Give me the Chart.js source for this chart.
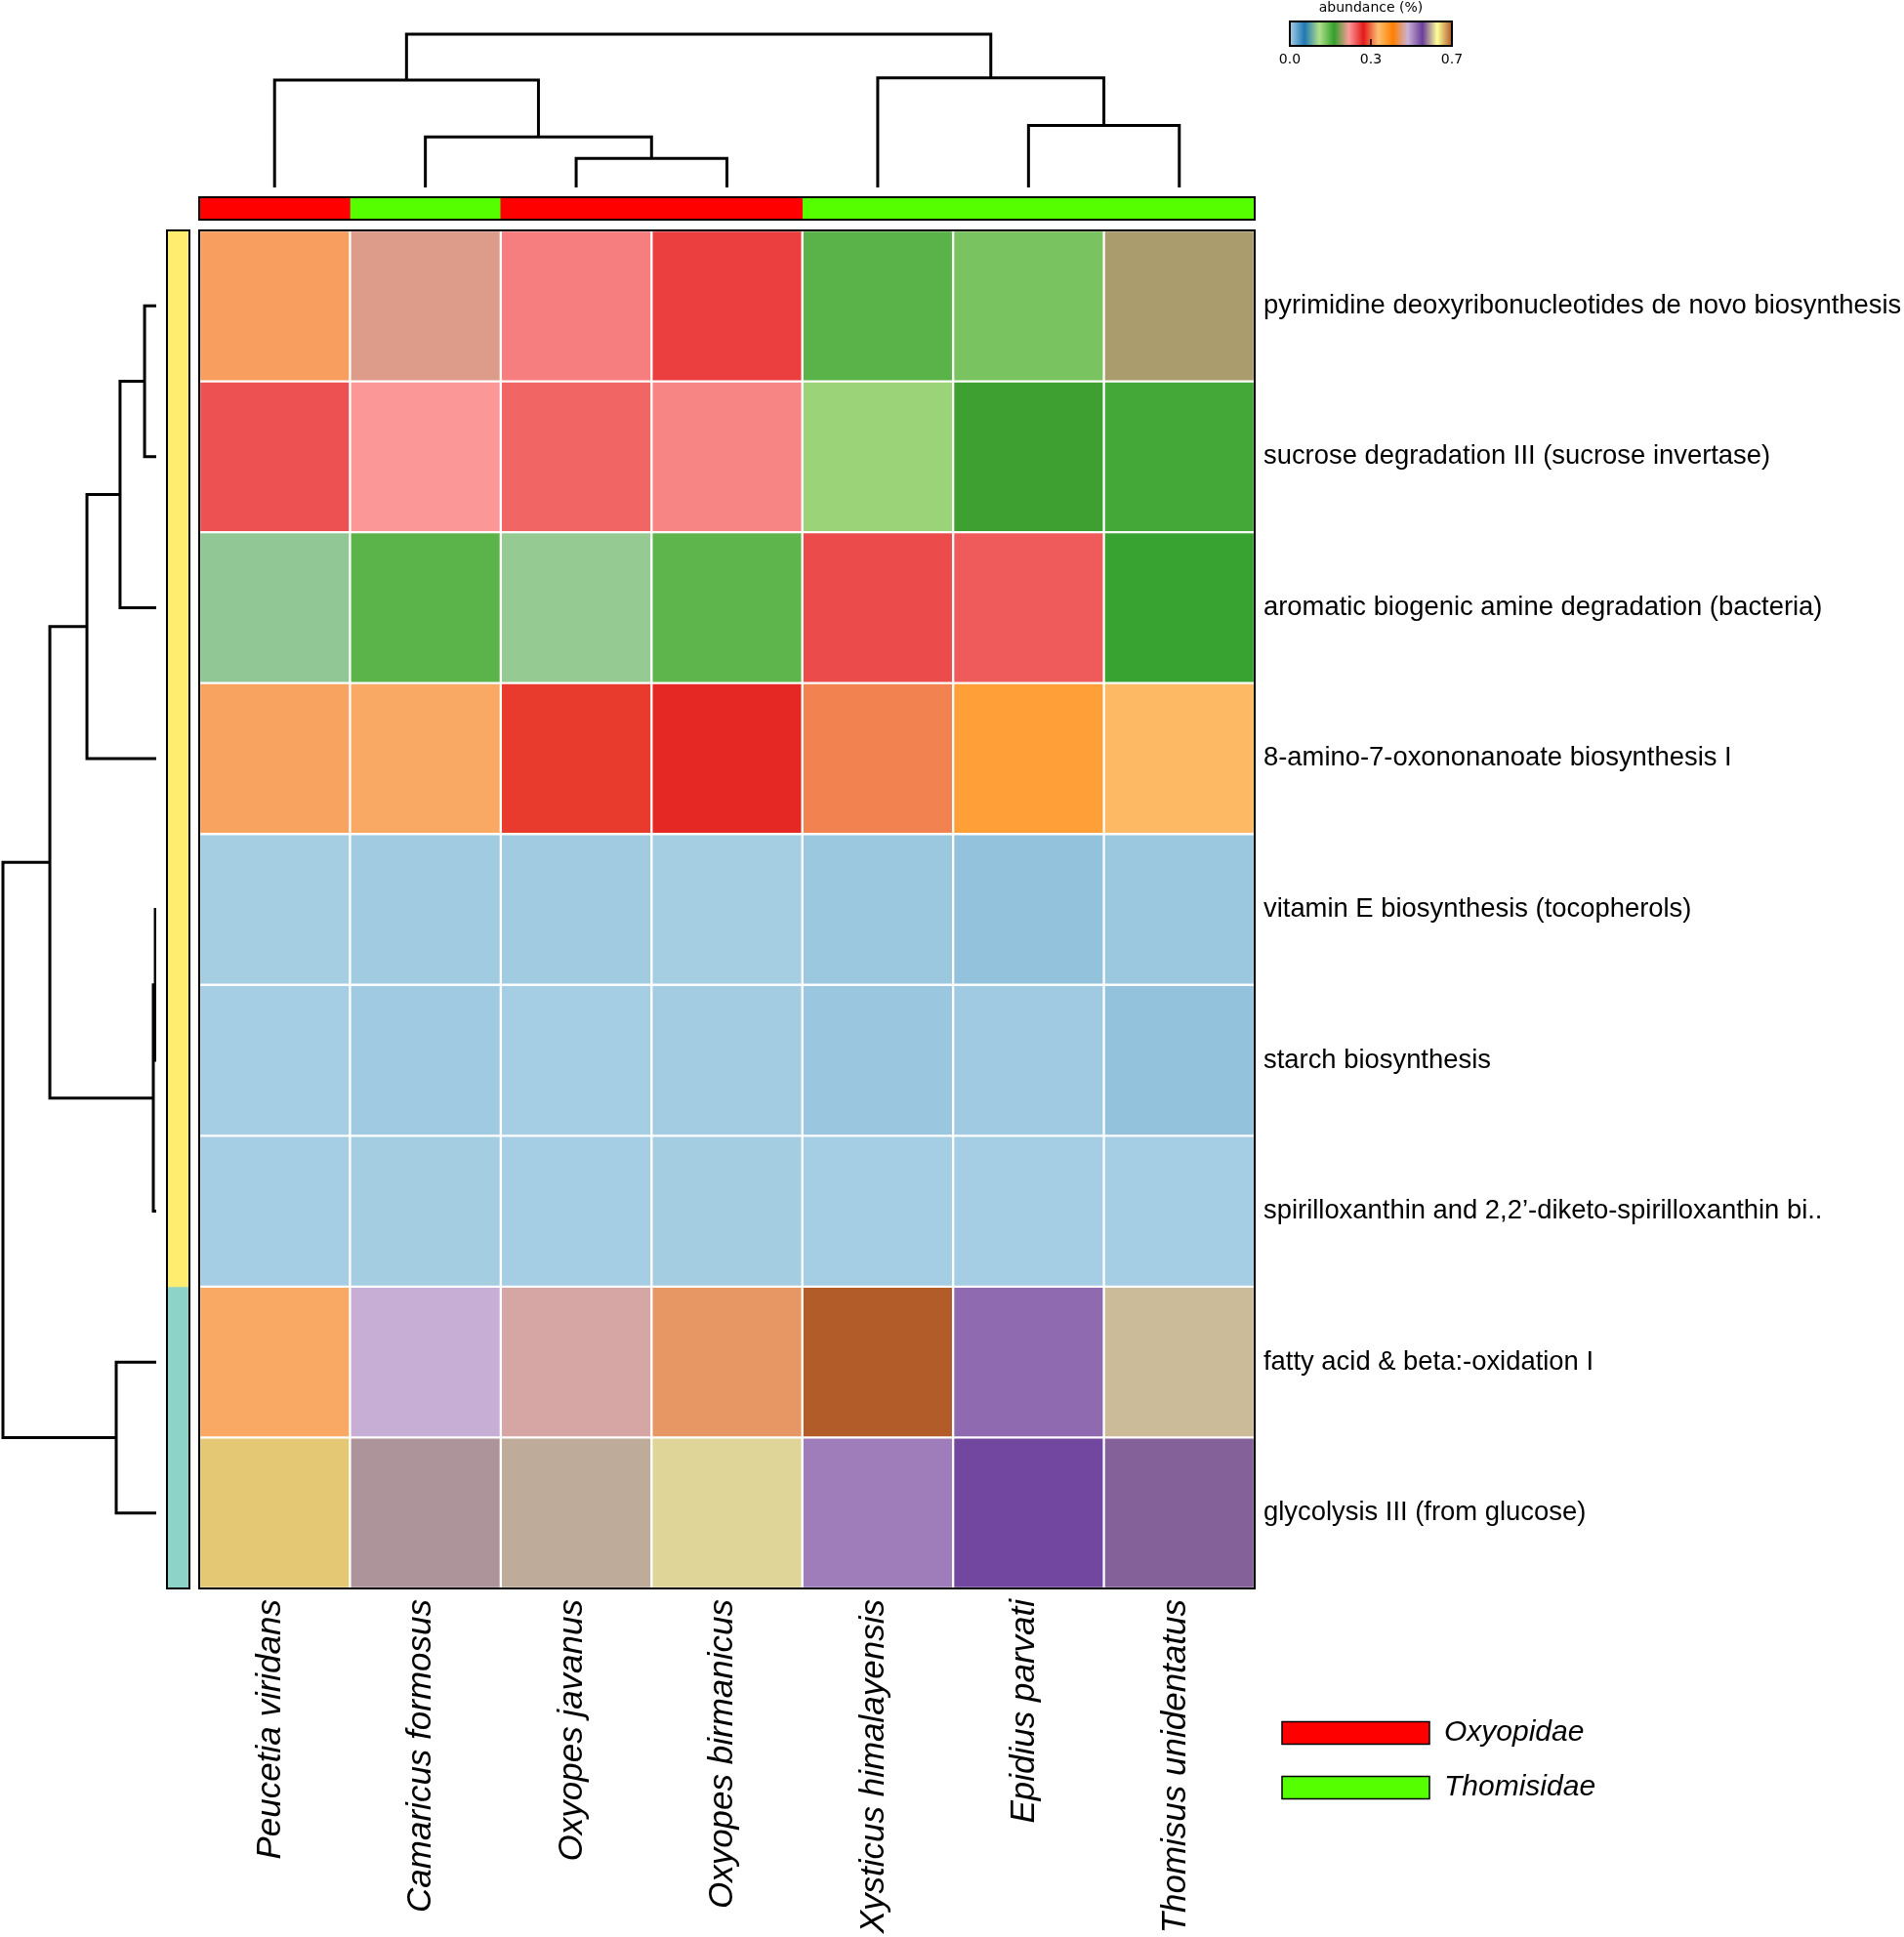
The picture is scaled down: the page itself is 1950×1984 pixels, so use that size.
<!DOCTYPE html>
<html>
<head>
<meta charset="utf-8">
<script src="https://cdn.jsdelivr.net/npm/chart.js@4.4.1/dist/chart.umd.min.js"></script>
<style>
  html, body { margin: 0; padding: 0; background: #fff; }
  body { width: 1950px; height: 1984px; position: relative; overflow: hidden; }
  canvas { position: absolute; }
</style>
</head>
<body>
<canvas id="topDendro" width="1081" height="161" style="left:204px;top:31px"></canvas>
<canvas id="famBar" width="1083" height="25" style="left:203px;top:201px"></canvas>
<canvas id="leftDendro" width="160" height="1388" style="left:0px;top:236px"></canvas>
<canvas id="rowBar" width="25" height="1390" style="left:170px;top:235px"></canvas>
<canvas id="heat" width="1748" height="1771" style="left:202px;top:211px"></canvas>
<canvas id="cbar" width="206" height="70" style="left:1301px;top:0px"></canvas>
<canvas id="famLegend" width="800" height="140" style="left:1287px;top:1734px"></canvas>
<script>
// species (columns) and pathways (rows), in the order of the picture
const species = [
  "Peucetia viridans", "Camaricus formosus", "Oxyopes javanus", "Oxyopes birmanicus",
  "Xysticus himalayensis", "Epidius parvati", "Thomisus unidentatus"
];
const colFamily = ["Oxyopidae", "Thomisidae", "Oxyopidae", "Oxyopidae", "Thomisidae", "Thomisidae", "Thomisidae"];
const families = ["Oxyopidae", "Thomisidae"];

const pathways = [
  "pyrimidine deoxyribonucleotides de novo biosynthesis",
  "sucrose degradation III (sucrose invertase)",
  "aromatic biogenic amine degradation (bacteria)",
  "8-amino-7-oxononanoate biosynthesis I",
  "vitamin E biosynthesis (tocopherols)",
  "starch biosynthesis",
  "spirilloxanthin and 2,2\u2019-diketo-spirilloxanthin bi..",
  "fatty acid & beta:-oxidation I",
  "glycolysis III (from glucose)"
];
const rowCluster = [0, 0, 0, 0, 0, 0, 0, 1, 1];

// abundance (%) per pathway, one value per species
const pyrimidine = [0.348, 0.231, 0.253, 0.283, 0.162, 0.147, 0.216];
const sucrose    = [0.274, 0.241, 0.265, 0.250, 0.131, 0.183, 0.172];
const aromatic   = [0.106, 0.161, 0.108, 0.160, 0.277, 0.270, 0.177];
const aminoOxo   = [0.350, 0.352, 0.312, 0.305, 0.338, 0.390, 0.366];
const vitaminE   = [0.000, 0.0024, 0.0021, 0.000, 0.0048, 0.0084, 0.0048];
const starch     = [0.0006, 0.003, 0.0006, 0.0012, 0.0054, 0.003, 0.0084];
const spirillo   = [0.0006, 0.0009, 0.0006, 0.0009, 0.0006, 0.0006, 0.0006];
const fattyAcid  = [0.352, 0.482, 0.466, 0.448, 0.659, 0.517, 0.579];
const glycolysis = [0.620, 0.567, 0.574, 0.587, 0.507, 0.535, 0.551];
const abundance = [pyrimidine, sucrose, aromatic, aminoOxo, vitaminE, starch, spirillo, fattyAcid, glycolysis];

// colour bar
const abundanceMax = 0.66;
const cbarTickLabels = ["0.0", "0.3", "0.7"];

// dendrograms: [left, right, distance]; index < n is a leaf, n + k is merge k
const colLinkage = [
  [2, 3, 0.19],
  [1, 7, 0.33],
  [0, 8, 0.70],
  [5, 6, 0.405],
  [4, 10, 0.715],
  [9, 11, 1.0]
];
const rowLinkage = [
  [0, 1, 0.076],
  [9, 2, 0.236],
  [10, 3, 0.452],
  [4, 5, 0.006],
  [12, 6, 0.019],
  [11, 13, 0.694],
  [7, 8, 0.261],
  [14, 15, 1.0]
];

// colours
const paired = ["#a6cee3", "#1f78b4", "#b2df8a", "#33a02c", "#fb9a99", "#e31a1c",
                "#fdbf6f", "#ff7f00", "#cab2d6", "#6a3d9a", "#ffff99", "#b15928"];
const familyColors = { Oxyopidae: "#ff0000", Thomisidae: "#55ff00" };
const clusterColors = ["#ffed6f", "#8dd3c7"];
const FONT = "'Liberation Sans', Arial, sans-serif";

Chart.defaults.animation = false;
Chart.defaults.events = [];
Chart.defaults.color = "#000";
Chart.defaults.plugins.legend.display = false;
Chart.defaults.plugins.tooltip.enabled = false;

function hexToRgb(h) {
  const n = parseInt(h.slice(1), 16);
  return [(n >> 16) & 255, (n >> 8) & 255, n & 255];
}
const pairedRgb = paired.map(hexToRgb);

function valueColor(v) {
  const p = Math.max(0, Math.min(1, v / abundanceMax)) * (paired.length - 1);
  const i = Math.min(Math.floor(p), paired.length - 2);
  const t = p - i;
  const a = pairedRgb[i], b = pairedRgb[i + 1];
  const c = a.map((x, k) => Math.round(x + (b[k] - x) * t));
  return `rgb(${c[0]},${c[1]},${c[2]})`;
}

// black frame round the plot area
const framePlugin = {
  id: "frame",
  afterDatasetsDraw(chart, args, opts) {
    if (!opts || !opts.width) return;
    const { ctx, chartArea: a } = chart;
    ctx.save();
    ctx.strokeStyle = "#000";
    ctx.lineWidth = opts.width;
    ctx.strokeRect(a.left, a.top, a.right - a.left, a.bottom - a.top);
    ctx.restore();
  }
};
Chart.register(framePlugin);

// U-shaped links of a dendrogram, in (leaf position, distance)
function dendroSegments(linkage, n) {
  const pos = [], dist = [];
  for (let i = 0; i < n; i++) { pos[i] = i + 0.5; dist[i] = 0; }
  return linkage.map(([a, b, h], k) => {
    pos[n + k] = (pos[a] + pos[b]) / 2;
    dist[n + k] = h;
    return [[pos[a], dist[a]], [pos[a], h], [pos[b], h], [pos[b], dist[b]]];
  });
}

function dendroDatasets(linkage, n, horizontal) {
  return dendroSegments(linkage, n).map((seg) => ({
    data: seg.map(([p, d]) => (horizontal ? { x: d, y: p } : { x: p, y: d })),
    showLine: true,
    pointRadius: 0,
    borderColor: "#000",
    borderWidth: 3,
    tension: 0,
    clip: false
  }));
}

// heatmap first: the side strips and dendrograms follow its plot area
const heatCanvas = document.getElementById("heat");
const heat = new Chart(heatCanvas, {
  type: "bar",
  data: {
    labels: species,
    datasets: pathways.map((p, i) => ({
      label: p,
      data: abundance[i].map(() => [i, i + 1]),
      backgroundColor: abundance[i].map(valueColor),
      borderColor: "#fff",
      borderWidth: 1.5,
      borderSkipped: false,
      grouped: false,
      barPercentage: 1,
      categoryPercentage: 1
    }))
  },
  options: {
    responsive: false,
    layout: { padding: { left: 2, top: 0, right: 0, bottom: 0 } },
    scales: {
      x: {
        position: "bottom",
        grid: { display: false, drawTicks: false },
        border: { display: false },
        ticks: {
          autoSkip: false,
          minRotation: 90,
          maxRotation: 90,
          padding: 11,
          labelOffset: -4,
          color: "#000",
          font: { family: FONT, size: 35, style: "italic" }
        },
        afterFit(s) { s.height = 355; }
      },
      y: { type: "linear", min: 0, max: pathways.length, reverse: true, display: false },
      yLab: {
        type: "category",
        axis: "y",
        position: "right",
        labels: pathways,
        offset: true,
        grid: { display: false, drawTicks: false },
        border: { display: false },
        ticks: { padding: 9, color: "#000", font: { family: FONT, size: 27.4, lineHeight: "32px" } },
        afterFit(s) { s.width = 665; }
      }
    },
    plugins: { frame: { width: 2 } }
  }
});

const ha = heat.chartArea;
const heatLeft = heatCanvas.offsetLeft + ha.left;
const heatTop = heatCanvas.offsetTop + ha.top;
const heatW = Math.round(ha.right - ha.left);
const heatH = Math.round(ha.bottom - ha.top);

function place(id, left, top, w, h) {
  const c = document.getElementById(id);
  c.width = w; c.height = h;
  c.style.left = left + "px"; c.style.top = top + "px";
  return c;
}

// top dendrogram (species)
new Chart(place("topDendro", heatLeft, 31, heatW, 161), {
  type: "scatter",
  data: { datasets: dendroDatasets(colLinkage, species.length, false) },
  options: {
    responsive: false,
    layout: { padding: { top: 4, left: 0, right: 0, bottom: 0 } },
    scales: {
      x: { type: "linear", min: 0, max: species.length, display: false },
      y: { type: "linear", min: 0, max: 1, display: false }
    }
  }
});

// left dendrogram (pathways)
new Chart(place("leftDendro", 0, heatTop, 160, heatH), {
  type: "scatter",
  data: { datasets: dendroDatasets(rowLinkage, pathways.length, true) },
  options: {
    responsive: false,
    layout: { padding: { left: 3, right: 0, top: 0, bottom: 0 } },
    scales: {
      x: { type: "linear", min: 0, max: 1, reverse: true, display: false },
      y: { type: "linear", min: 0, max: pathways.length, reverse: true, display: false }
    }
  }
});

// family colour strip above the heatmap
new Chart(place("famBar", heatLeft - 1, 201, heatW + 2, 25), {
  type: "bar",
  data: {
    labels: species,
    datasets: families.map((f) => ({
      label: f,
      data: colFamily.map((c) => (c === f ? [0, 1] : null)),
      backgroundColor: familyColors[f],
      borderWidth: 0,
      grouped: false,
      barPercentage: 1,
      categoryPercentage: 1
    }))
  },
  options: {
    responsive: false,
    layout: { padding: 1 },
    scales: {
      x: { display: false },
      y: { type: "linear", min: 0, max: 1, display: false }
    },
    plugins: { frame: { width: 2 } }
  }
});

// cluster colour strip left of the heatmap
new Chart(place("rowBar", 170, heatTop - 1, 25, heatH + 2), {
  type: "bar",
  data: {
    labels: pathways,
    datasets: clusterColors.map((col, k) => ({
      data: rowCluster.map((c) => (c === k ? [0, 1] : null)),
      backgroundColor: col,
      borderWidth: 0,
      grouped: false,
      barPercentage: 1,
      categoryPercentage: 1
    }))
  },
  options: {
    responsive: false,
    indexAxis: "y",
    layout: { padding: 1 },
    scales: {
      x: { type: "linear", min: 0, max: 1, display: false },
      y: { display: false }
    },
    plugins: { frame: { width: 2 } }
  }
});

// colour bar
const cbarTicks = [0, abundanceMax / 2, abundanceMax];
new Chart(document.getElementById("cbar"), {
  type: "bar",
  data: {
    labels: ["abundance"],
    datasets: [{
      data: [[0, abundanceMax]],
      backgroundColor(ctx) {
        const chart = ctx.chart;
        if (!chart.chartArea) return paired[0];
        const xs = chart.scales.x;
        const g = chart.ctx.createLinearGradient(xs.getPixelForValue(0), 0, xs.getPixelForValue(abundanceMax), 0);
        paired.forEach((c, i) => g.addColorStop(i / (paired.length - 1), c));
        return g;
      },
      borderWidth: 0,
      barPercentage: 1,
      categoryPercentage: 1
    }]
  },
  options: {
    responsive: false,
    indexAxis: "y",
    layout: { padding: { left: 20, right: 20, top: 0, bottom: 0 } },
    scales: {
      x: {
        type: "linear",
        min: 0,
        max: abundanceMax,
        position: "bottom",
        grid: { display: false, drawTicks: false },
        border: { display: false },
        afterBuildTicks(s) { s.ticks = cbarTicks.map((v) => ({ value: v })); },
        ticks: {
          autoSkip: false,
          maxRotation: 0,
          padding: 6,
          color: "#000",
          font: { family: "'DejaVu Sans', sans-serif", size: 14 },
          callback: (v, i) => cbarTickLabels[i]
        },
        afterFit(s) { s.height = 23; }
      },
      y: { display: false }
    },
    plugins: {
      frame: { width: 2 },
      title: {
        display: true,
        text: "abundance (%)",
        color: "#000",
        font: { family: "'DejaVu Sans', sans-serif", size: 14, weight: "normal", lineHeight: "17px" },
        padding: { top: 0, bottom: 5 }
      }
    }
  },
  plugins: [{
    id: "midTick",
    afterDatasetsDraw(chart) {
      const { ctx, chartArea: a, scales } = chart;
      const x = scales.x.getPixelForValue(cbarTicks[1]);
      ctx.save();
      ctx.strokeStyle = "#000";
      ctx.lineWidth = 1.5;
      ctx.beginPath();
      ctx.moveTo(x, a.bottom);
      ctx.lineTo(x, a.bottom - 7);
      ctx.stroke();
      ctx.restore();
    }
  }]
});

// family legend
new Chart(document.getElementById("famLegend"), {
  type: "bar",
  data: {
    labels: [],
    datasets: families.map((f) => ({
      label: f,
      data: [],
      backgroundColor: familyColors[f],
      borderColor: "#000",
      borderWidth: 1.5
    }))
  },
  options: {
    responsive: false,
    scales: { x: { display: false }, y: { display: false } },
    plugins: {
      legend: {
        display: true,
        position: "left",
        align: "start",
        labels: {
          boxWidth: 151,
          boxHeight: 23,
          padding: 26,
          color: "#000",
          font: { family: FONT, size: 30, style: "italic" }
        }
      }
    }
  }
});
</script>
</body>
</html>
